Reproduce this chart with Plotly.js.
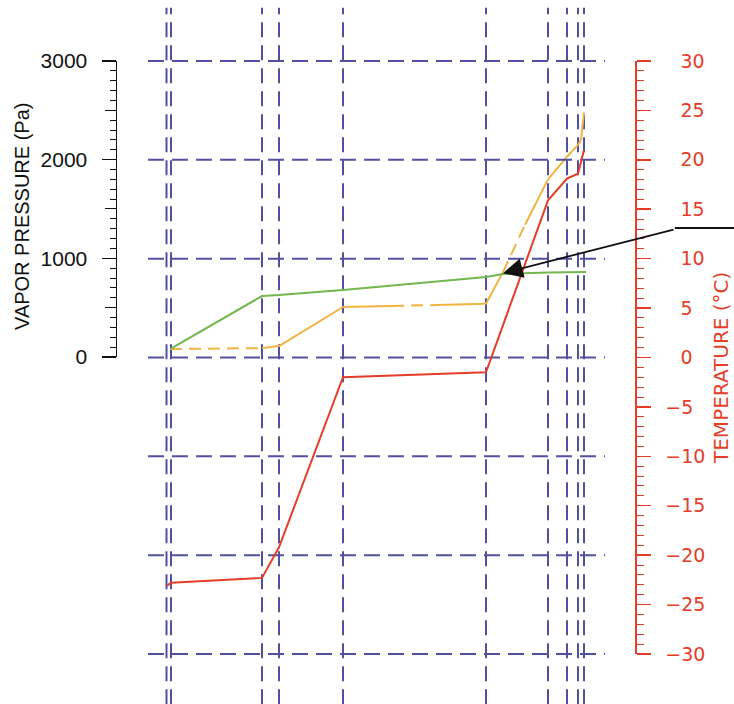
<!DOCTYPE html>
<html>
<head>
<meta charset="utf-8">
<script src="https://cdn.plot.ly/plotly-3.0.1.min.js"></script>
<style>html,body{margin:0;padding:0;background:#fff;}#chart{width:734px;height:704px;}</style>
</head>
<body>
<div id="chart"></div>
<script>
// Wall layer boundaries (position, mm from exterior face)
var layerBounds = [-1.5, 3, 94, 111, 175, 318, 380, 399, 410, 416];

// Temperature profile (°C)
var tempX = [-1, 3, 94, 111, 175, 318, 380, 399, 410, 416];
var tempC = [-23.1, -22.8, -22.3, -19.2, -2.0, -1.5, 15.9, 18.1, 18.6, 21.0];

// Actual vapour pressure (Pa)
var vpX  = [2, 94, 111, 175, 318, 335, 380, 399, 410, 418];
var vpPa = [80, 618, 628, 680, 810, 841, 856, 860, 861, 862];

// Saturation vapour pressure (Pa) and line style of each segment
var satX  = [2, 94, 111, 175, 224, 269, 318, 335, 357, 380, 399, 410, 413, 416];
var satPa = [81, 90, 111, 507, 517, 527, 540, 860, 1340, 1800, 2030, 2150, 2200, 2480];
var satDash = ['dash', 'solid', 'solid', 'solid', 'dash', 'solid', 'solid', 'dash', 'solid', 'solid', 'solid', 'solid', 'solid'];

// Axis ticks
var pressTicks = [0, 1000, 2000, 3000];
var pressMid = [500, 1500, 2500];
var tempTicks = [-30, -25, -20, -15, -10, -5, 0, 5, 10, 15, 20, 25, 30];
var gridTemps = [-30, -20, -10, 0, 10, 20, 30];
var gridXStart = -20, gridXEnd = 437;

var BLUE = '#50509f', RED = '#e53d28', YEL = '#f2b441', GRN = '#74b64e';

var traces = [];
for (var i = 0; i < satX.length - 1; i++) {
  traces.push({
    x: [satX[i], satX[i + 1]], y: [satPa[i], satPa[i + 1]],
    xaxis: 'x', yaxis: 'y', mode: 'lines', hoverinfo: 'skip', showlegend: false,
    line: {color: YEL, width: 2, dash: satDash[i] === 'dash' ? '12px,7px' : 'solid'}
  });
}
traces.push({x: vpX, y: vpPa, xaxis: 'x', yaxis: 'y', mode: 'lines', showlegend: false,
  line: {color: GRN, width: 2}});
traces.push({x: tempX, y: tempC, xaxis: 'x', yaxis: 'y2', mode: 'lines', showlegend: false,
  line: {color: RED, width: 2}});
traces.push({x: [0], y: [0], xaxis: 'x', yaxis: 'y3', mode: 'markers', marker: {opacity: 0},
  hoverinfo: 'skip', showlegend: false});
traces.push({x: [0], y: [0], xaxis: 'x', yaxis: 'y4', mode: 'markers', marker: {opacity: 0},
  hoverinfo: 'skip', showlegend: false});

var shapes = [];
gridTemps.forEach(function (t) {
  shapes.push({type: 'line', xref: 'x', yref: 'y2', x0: gridXStart, x1: gridXEnd, y0: t, y1: t,
    layer: 'below', line: {color: BLUE, width: 2, dash: '16px,8px'}});
});
layerBounds.forEach(function (b) {
  shapes.push({type: 'line', xref: 'x', yref: 'paper', x0: b, x1: b, y0: -0.075, y1: 1.08,
    layer: 'below', line: {color: BLUE, width: 2, dash: '15px,8px'}});
});
// leader line of the arrow
shapes.push({type: 'line', xref: 'paper', yref: 'paper', x0: 1.077, x1: 1.2, y0: 0.7148, y1: 0.7148,
  line: {color: '#111', width: 2}});

var tempText = tempTicks.map(function (t) {
  return t < 0 ? '\u2212' + Math.abs(t) : '\u2002\u2009\u200a' + t;
});

var FONT_L = 'Liberation Sans, Arial, sans-serif';
var FONT_R = 'DejaVu Sans, sans-serif';

var layout = {
  width: 734, height: 704,
  margin: {l: 117, r: 99, t: 56, b: 45, pad: 0},
  paper_bgcolor: '#fff', plot_bgcolor: 'rgba(0,0,0,0)',
  showlegend: false,
  xaxis: {range: [-51, 467], visible: false, anchor: 'y2'},
  yaxis: {
    domain: [0.50083, 0.99171], range: [0, 3000], anchor: 'x', side: 'left',
    showline: true, linecolor: '#111', linewidth: 1.5, zeroline: false, showgrid: false,
    tickmode: 'array', tickvals: pressTicks, ticktext: pressTicks.map(String),
    ticks: 'outside', ticklen: 14, tickwidth: 1.5, tickcolor: '#111',
    ticklabelstandoff: 10,
    tickfont: {family: FONT_L, size: 21, color: '#111'},
    minor: {dtick: 100, tick0: 0, ticks: 'outside', ticklen: 6, tickwidth: 1, tickcolor: '#111', showgrid: false}
  },
  yaxis3: {
    overlaying: 'y', range: [0, 3000], anchor: 'x', side: 'left',
    showline: false, zeroline: false, showgrid: false,
    tickmode: 'array', tickvals: pressMid, showticklabels: false,
    ticks: 'outside', ticklen: 11, tickwidth: 1, tickcolor: '#111'
  },
  // data scale for temperature (slightly padded so edge grid lines are not clipped)
  yaxis2: {
    domain: [0, 1], range: [-30.506, 30.506], anchor: 'x', side: 'right',
    visible: false, showgrid: false, zeroline: false
  },
  // visible temperature axis, exactly -30..30
  yaxis4: {
    domain: [0.00829, 0.99171], range: [-30, 30], anchor: 'x', side: 'right',
    showline: true, linecolor: RED, linewidth: 1.5, zeroline: false, showgrid: false,
    tickmode: 'array', tickvals: tempTicks, ticktext: tempText,
    ticks: 'outside', ticklen: 14, tickwidth: 1.5, tickcolor: RED,
    ticklabelstandoff: 11,
    tickfont: {family: FONT_R, size: 19, color: RED},
    minor: {dtick: 1, tick0: 0, ticks: 'outside', ticklen: 7, tickwidth: 1, tickcolor: RED, showgrid: false}
  },
  shapes: shapes,
  annotations: [{
    x: 335, y: 850, xref: 'x', yref: 'y', text: '', showarrow: true,
    ax: 172, ay: -44, axref: 'pixel', ayref: 'pixel',
    arrowhead: 2, arrowsize: 2.2, arrowwidth: 1.8, arrowcolor: '#111'
  }, {
    text: 'VAPOR PRESSURE (Pa)', textangle: -90, showarrow: false,
    xref: 'paper', yref: 'paper', x: -0.1834, y: 0.7347, xanchor: 'center', yanchor: 'middle',
    font: {family: FONT_L, size: 20, color: '#111'}
  }, {
    text: 'TEMPERATURE (\u00b0C)', textangle: -90, showarrow: false,
    xref: 'paper', yref: 'paper', x: 1.166, y: 0.4826, xanchor: 'center', yanchor: 'middle',
    font: {family: FONT_R, size: 20, color: RED}
  }]
};

Plotly.newPlot('chart', traces, layout, {staticPlot: true});
</script>
</body>
</html>
